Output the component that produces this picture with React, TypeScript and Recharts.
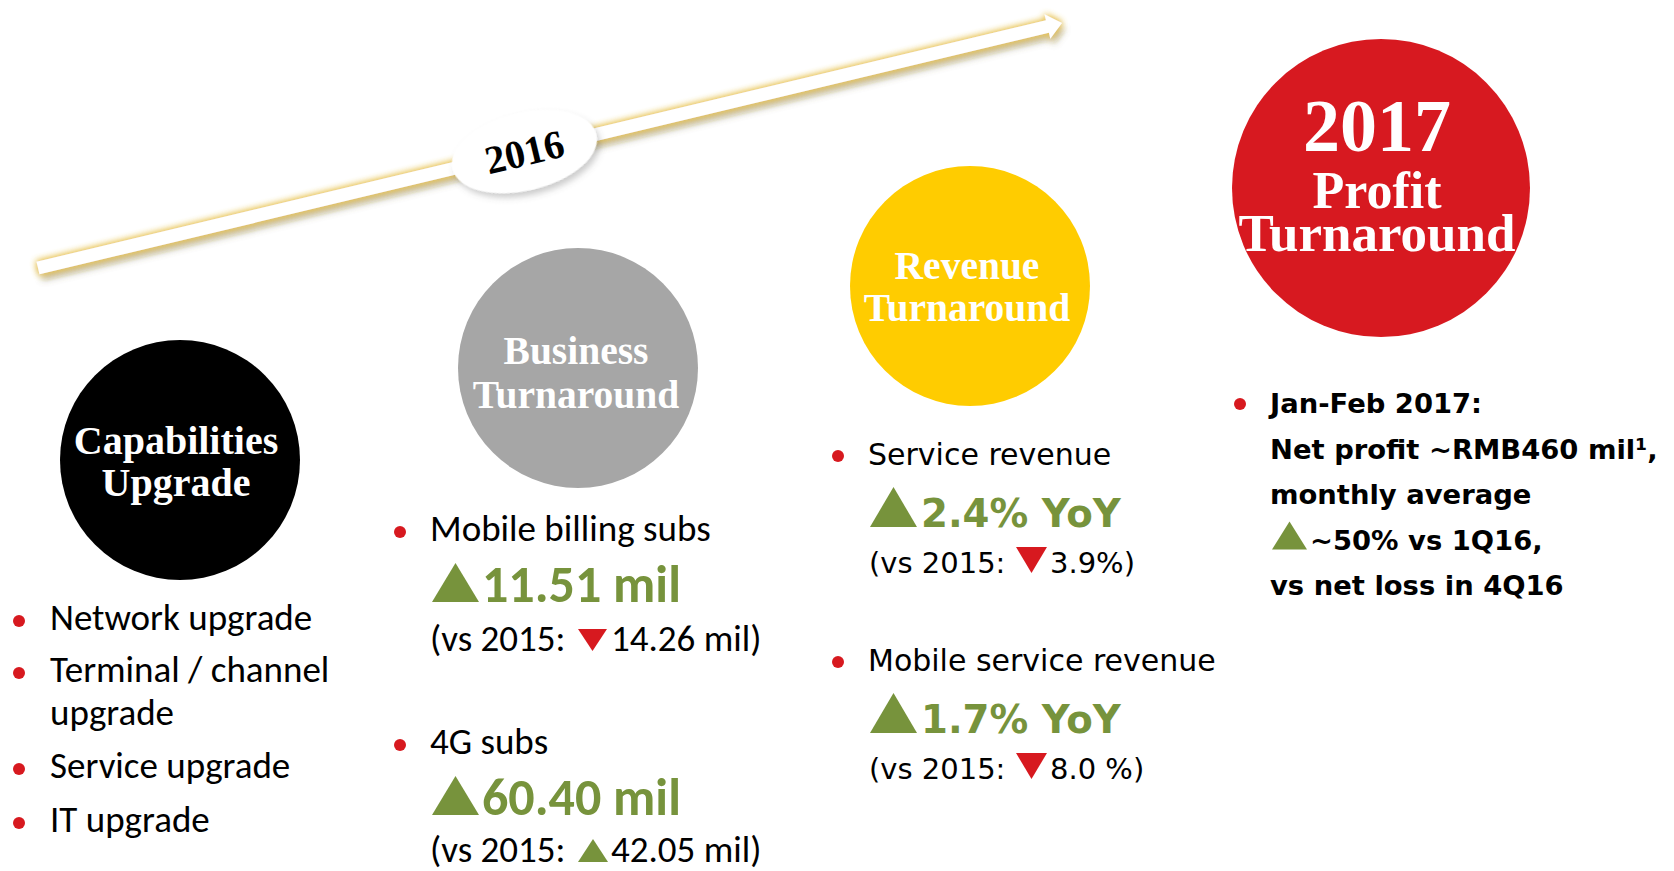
import React from "react";
import { ScatterChart, Scatter, XAxis, YAxis, ReferenceLine } from "recharts";

const W = 1674;
const H = 871;

// content
const timelineLabel = "2016";
const stageTitles = [
  ["Capabilities", "Upgrade"],
  ["Business", "Turnaround"],
  ["Revenue", "Turnaround"],
  ["2017", "Profit", "Turnaround"],
];
const capabilityItems = [["Network upgrade"], ["Terminal / channel", "upgrade"], ["Service upgrade"], ["IT upgrade"]];
const subsLabels = ["Mobile billing subs", "4G subs"];
const subsGrowth = [11.51, 60.4];
const subsPrior = ["14.26 mil", "42.05 mil"];
const subsPriorDir = ["down", "up"];
const revenueLabels = ["Service revenue", "Mobile service revenue"];
const revenueGrowth = [2.4, 1.7];
const revenuePrior = ["3.9%", "8.0 %"];
const revenuePriorDir = ["down", "down"];
const profitLines = ["Jan-Feb 2017:", "Net profit ~RMB460 mil\u00b9,", "monthly average", "~50% vs 1Q16,", "vs net loss in 4Q16"];
const profitArrowLine = 3;

// layout / style
const stageColors = ["#000000", "#a6a6a6", "#ffcc00", "#d71920"];
const stageLayout = [
  { x: 180, y: 460, r: 120, dx: -4, offsets: [-6, 36], sizes: [40, 40] },
  { x: 578, y: 368, r: 120, dx: -2, offsets: [-4, 40], sizes: [39.5, 39.5] },
  { x: 970, y: 286, r: 120, dx: -3, offsets: [-7, 35], sizes: [39.5, 39.5] },
  { x: 1381, y: 188, r: 149, dx: -4, offsets: [-37, 20, 63], sizes: [74, 52, 53] },
];
const capDots = [621, 673, 769, 823];
const subsDots = [532, 745];
const subsPriorOffsets = [119, 117];
const revenueDots = [456, 662];
const arrowStart = { x: 38, y: 268 };
const arrowEnd = { x: 1062, y: 23 };

const GREEN = "#77933c";
const RED = "#d7191f";
const SERIF = "'Liberation Serif', 'Times New Roman', serif";
const NARROW = "Carlito, Calibri, Lato, sans-serif";
const WIDE = "'DejaVu Sans', Verdana, sans-serif";

const triUp = (x: number, base: number, w: number, h: number) =>
  `${x},${base} ${x + w},${base} ${x + w / 2},${base - h}`;
const triDown = (x: number, base: number, w: number, h: number) =>
  `${x},${base - h} ${x + w},${base - h} ${x + w / 2},${base}`;

const stageData = stageTitles.map((lines, i) => ({ ...stageLayout[i], lines, fill: stageColors[i] }));
const capData = capabilityItems.map((lines, i) => ({ x: 19, y: capDots[i], lines }));
const subsData = subsLabels.map((label, i) => ({
  x: 400,
  y: subsDots[i],
  label,
  growth: subsGrowth[i],
  prior: subsPrior[i],
  dir: subsPriorDir[i],
  pOff: subsPriorOffsets[i],
}));
const revenueData = revenueLabels.map((label, i) => ({
  x: 838,
  y: revenueDots[i],
  label,
  growth: revenueGrowth[i],
  prior: revenuePrior[i],
  dir: revenuePriorDir[i],
}));
const profitData = [{ x: 1240, y: 404, lines: profitLines }];

const StageShape = (props: any) => {
  const { cx, cy, payload } = props;
  return (
    <g>
      <circle cx={cx} cy={cy} r={payload.r} fill={payload.fill} />
      {payload.lines.map((t: string, i: number) => (
        <text
          key={i}
          x={cx + payload.dx}
          y={cy + payload.offsets[i]}
          textAnchor="middle"
          fill="#ffffff"
          fontFamily={SERIF}
          fontWeight="bold"
          fontSize={payload.sizes[i]}
        >
          {t}
        </text>
      ))}
    </g>
  );
};

const Dot = ({ cx, cy }: { cx: number; cy: number }) => <circle cx={cx} cy={cy} r={6} fill={RED} />;

const CapShape = (props: any) => {
  const { cx, cy, payload } = props;
  return (
    <g>
      <Dot cx={cx} cy={cy} />
      {payload.lines.map((t: string, i: number) => (
        <text key={i} x={cx + 31} y={cy + 9 + i * 43} fontFamily={NARROW} fontSize={37} fill="#000">
          {t}
        </text>
      ))}
    </g>
  );
};

const SubsShape = (props: any) => {
  const { cx, cy, payload } = props;
  const tx = cx + 30;
  const gb = cy + 70;
  const pb = cy + payload.pOff;
  return (
    <g>
      <Dot cx={cx} cy={cy} />
      <text x={tx} y={cy + 9} fontFamily={NARROW} fontSize={37} fill="#000">
        {payload.label}
      </text>
      <polygon points={triUp(tx + 2, gb, 47, 39)} fill={GREEN} />
      <text x={tx + 52} y={gb} fontFamily={NARROW} fontWeight="bold" fontSize={52} fill={GREEN}>
        {`${payload.growth.toFixed(2)} mil`}
      </text>
      <text x={tx} y={pb} fontFamily={NARROW} fontSize={37} fill="#000">
        (vs 2015:
      </text>
      {payload.dir === "down" ? (
        <polygon points={triDown(tx + 148, pb, 29, 22)} fill={RED} />
      ) : (
        <polygon points={triUp(tx + 148, pb, 30, 23)} fill={GREEN} />
      )}
      <text x={tx + 181} y={pb} fontFamily={NARROW} fontSize={37} fill="#000">
        {`${payload.prior})`}
      </text>
    </g>
  );
};

const RevenueShape = (props: any) => {
  const { cx, cy, payload } = props;
  const tx = cx + 30;
  const gb = cy + 71;
  const pb = cy + 117;
  return (
    <g>
      <Dot cx={cx} cy={cy} />
      <text x={tx} y={cy + 9} fontFamily={WIDE} fontSize={30} fill="#000">
        {payload.label}
      </text>
      <polygon points={triUp(tx + 2, gb, 47, 40)} fill={GREEN} />
      <text x={tx + 53} y={gb} fontFamily={WIDE} fontWeight="bold" fontSize={38.7} fill={GREEN}>
        {`${payload.growth.toFixed(1)}% YoY`}
      </text>
      <text x={tx + 1} y={pb} fontFamily={WIDE} fontSize={29} fill="#000">
        (vs 2015:
      </text>
      {payload.dir === "down" ? (
        <polygon points={triDown(tx + 148, pb, 31, 26)} fill={RED} />
      ) : (
        <polygon points={triUp(tx + 148, pb, 31, 26)} fill={GREEN} />
      )}
      <text x={tx + 182} y={pb} fontFamily={WIDE} fontSize={29} fill="#000">
        {`${payload.prior})`}
      </text>
    </g>
  );
};

const ProfitShape = (props: any) => {
  const { cx, cy, payload } = props;
  const tx = cx + 30;
  return (
    <g>
      <Dot cx={cx} cy={cy} />
      {payload.lines.map((t: string, i: number) => {
        const b = cy + 9 + i * 45.5;
        if (i === profitArrowLine) {
          return (
            <g key={i}>
              <polygon points={triUp(tx + 2, b, 35, 28)} fill={GREEN} />
              <text x={tx + 40} y={b} fontFamily={WIDE} fontWeight="bold" fontSize={27.4} fill="#000">
                {t}
              </text>
            </g>
          );
        }
        return (
          <text key={i} x={tx} y={b} fontFamily={WIDE} fontWeight="bold" fontSize={27.4} fill="#000">
            {t}
          </text>
        );
      })}
    </g>
  );
};

const ArrowShape = (props: any) => {
  const { x1, y1, x2, y2 } = props;
  const dx = x2 - x1;
  const dy = y2 - y1;
  const len = Math.sqrt(dx * dx + dy * dy);
  const ux = dx / len;
  const uy = dy / len;
  const nx = -uy;
  const ny = ux;
  const hw = 6.5;
  const hh = 12.5;
  const hl = 15;
  const bx = x2 - ux * hl;
  const by = y2 - uy * hl;
  const pts = [
    [x1 + nx * hw, y1 + ny * hw],
    [bx + nx * hw, by + ny * hw],
    [bx + nx * hh, by + ny * hh],
    [x2, y2],
    [bx - nx * hh, by - ny * hh],
    [bx - nx * hw, by - ny * hw],
    [x1 - nx * hw, y1 - ny * hw],
  ]
    .map((p) => p.join(","))
    .join(" ");
  const angle = (Math.atan2(dy, dx) * 180) / Math.PI;
  const t = 0.475;
  const lx = x1 + dx * t;
  const ly = y1 + dy * t;
  return (
    <g>
      <polygon points={pts} fill="#ffffff" filter="url(#arrowGlow)" />
      <g transform={`translate(${lx},${ly}) rotate(${angle})`}>
        <ellipse cx={0} cy={0} rx={74} ry={39} fill="#ffffff" filter="url(#labelShadow)" />
        <text x={0} y={14} textAnchor="middle" fontFamily={SERIF} fontWeight="bold" fontSize={40} fill="#000">
          {timelineLabel}
        </text>
      </g>
    </g>
  );
};

export default function App() {
  return (
    <div style={{ position: "absolute", left: 0, top: 0, width: W, height: H, background: "#ffffff" }}>
      <ScatterChart width={W} height={H} margin={{ top: 0, right: 0, bottom: 0, left: 0 }}>
        <defs>
          <filter id="arrowGlow" x="-5%" y="-40%" width="110%" height="180%">
            <feGaussianBlur in="SourceAlpha" stdDeviation="3.5" result="blur" />
            <feFlood floodColor="#e8c455" result="gold" />
            <feComposite in="gold" in2="blur" operator="in" result="glow" />
            <feOffset in="blur" dx="3" dy="6" result="off" />
            <feFlood floodColor="#6b5f3d" floodOpacity="0.5" result="dark" />
            <feComposite in="dark" in2="off" operator="in" result="shadow" />
            <feMerge>
              <feMergeNode in="shadow" />
              <feMergeNode in="glow" />
              <feMergeNode in="glow" />
              <feMergeNode in="SourceGraphic" />
            </feMerge>
          </filter>
          <filter id="labelShadow" x="-20%" y="-30%" width="140%" height="170%">
            <feGaussianBlur in="SourceAlpha" stdDeviation="3" result="blur" />
            <feOffset in="blur" dx="2" dy="5" result="off" />
            <feFlood floodColor="#555555" floodOpacity="0.3" result="dark" />
            <feComposite in="dark" in2="off" operator="in" result="shadow" />
            <feMerge>
              <feMergeNode in="shadow" />
              <feMergeNode in="SourceGraphic" />
            </feMerge>
          </filter>
        </defs>
        <XAxis type="number" dataKey="x" domain={[0, W]} allowDataOverflow hide />
        <YAxis type="number" dataKey="y" domain={[0, H]} allowDataOverflow reversed hide />
        <ReferenceLine segment={[arrowStart, arrowEnd]} shape={ArrowShape} ifOverflow="visible" />
        <Scatter data={stageData} shape={StageShape} isAnimationActive={false} />
        <Scatter data={capData} shape={CapShape} isAnimationActive={false} />
        <Scatter data={subsData} shape={SubsShape} isAnimationActive={false} />
        <Scatter data={revenueData} shape={RevenueShape} isAnimationActive={false} />
        <Scatter data={profitData} shape={ProfitShape} isAnimationActive={false} />
      </ScatterChart>
    </div>
  );
}
